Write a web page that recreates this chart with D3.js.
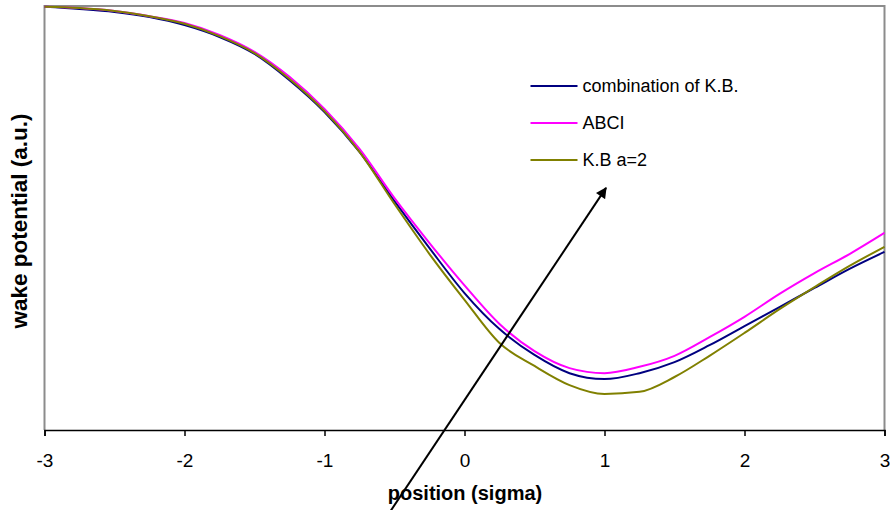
<!DOCTYPE html>
<html>
<head>
<meta charset="utf-8">
<script src="https://cdn.jsdelivr.net/npm/d3@7"></script>
<style>
  body { margin: 0; background: #fff; }
  text { font-family: Arial, "Liberation Sans", sans-serif; }
</style>
</head>
<body>
<div id="chart"></div>
<script>
// Data (wake potential in arbitrary units)
const positions = [-3, -2.75, -2.5, -2.25, -2, -1.75, -1.5, -1.25, -1, -0.75, -0.5, -0.25,
    0, 0.25, 0.5, 0.75, 1, 1.25, 1.5, 1.75, 2, 2.25, 2.5, 2.75, 3]
const combinationKB = [0.998, 0.993, 0.986, 0.974, 0.955, 0.927, 0.887, 0.825, 0.750, 0.656, 0.540, 0.429,
    0.323, 0.238, 0.177, 0.134, 0.120, 0.134, 0.160, 0.200, 0.245, 0.290, 0.335, 0.380, 0.420]
const abci = [0.998, 0.995, 0.988, 0.976, 0.960, 0.932, 0.892, 0.833, 0.757, 0.663, 0.547, 0.441,
    0.341, 0.250, 0.186, 0.146, 0.134, 0.149, 0.175, 0.219, 0.267, 0.321, 0.370, 0.415, 0.465]
const kbA2 = [0.998, 0.995, 0.988, 0.976, 0.958, 0.929, 0.889, 0.828, 0.752, 0.656, 0.533, 0.415,
    0.307, 0.205, 0.151, 0.106, 0.085, 0.090, 0.125, 0.175, 0.229, 0.285, 0.337, 0.387, 0.432]
const seriesNames = ["combination of K.B.", "ABCI", "K.B a=2"]
const xTicks = [-3, -2, -1, 0, 1, 2, 3]
// arrow annotation, in data coordinates [position, wake]
const arrowFrom = [-0.532, -0.193]
const arrowTo = [1.011, 0.571]

const MARGIN = { LEFT: 44.5, RIGHT: 5.5, TOP: 6, BOTTOM: 80 }
const WIDTH = 890 - MARGIN.LEFT - MARGIN.RIGHT
const HEIGHT = 510 - MARGIN.TOP - MARGIN.BOTTOM

const svg = d3.select("#chart").append("svg")
    .attr("width", 890)
    .attr("height", 510)

const g = svg.append("g")
    .attr("transform", `translate(${MARGIN.LEFT}, ${MARGIN.TOP})`)

// Scales
const x = d3.scaleLinear().domain([-3, 3]).range([0, WIDTH])
const y = d3.scaleLinear().domain([0, 1]).range([HEIGHT, 0])
const color = d3.scaleOrdinal().domain(seriesNames).range(["#000080", "#ff00ff", "#808000"])

// plot frame (grey top/left/right)
g.append("path")
    .attr("d", `M0,${HEIGHT}V0H${WIDTH}V${HEIGHT}`)
    .attr("fill", "none")
    .attr("stroke", "#8c8c8c")
    .attr("stroke-width", 2)

// X Axis
const xAxisCall = d3.axisBottom(x)
    .tickValues(xTicks)
    .tickSize(6)
    .tickPadding(18)
    .tickFormat(d => String(d))
const xAxis = g.append("g")
    .attr("transform", `translate(0, ${HEIGHT})`)
    .call(xAxisCall)
xAxis.select(".domain").attr("stroke", "#000").attr("stroke-width", 1.5)
xAxis.selectAll(".tick line").attr("stroke", "#000").attr("stroke-width", 1.5)
xAxis.selectAll(".tick text")
    .attr("font-size", "19px")
    .attr("fill", "#000")
    .attr("font-family", "Arial, 'Liberation Sans', sans-serif")

// Labels
g.append("text")
    .attr("x", x(0) + 0.5)
    .attr("y", HEIGHT + 70)
    .attr("font-size", "20px")
    .attr("font-weight", "bold")
    .attr("text-anchor", "middle")
    .text("position (sigma)")
g.append("text")
    .attr("transform", "rotate(-90)")
    .attr("x", -215)
    .attr("y", -18)
    .attr("font-size", "22.5px")
    .attr("font-weight", "bold")
    .attr("text-anchor", "middle")
    .text("wake potential (a.u.)")

// Lines
const series = [
    { name: seriesNames[0], values: combinationKB },
    { name: seriesNames[1], values: abci },
    { name: seriesNames[2], values: kbA2 }
]
const line = d3.line()
    .x((d, i) => x(positions[i]))
    .y(d => y(d))
    .curve(d3.curveMonotoneX)

g.selectAll(".series")
    .data(series)
    .enter().append("path")
    .attr("class", "series")
    .attr("d", d => line(d.values))
    .attr("fill", "none")
    .attr("stroke", d => color(d.name))
    .attr("stroke-width", 2)

// Legend
const legend = g.selectAll(".legend")
    .data(seriesNames)
    .enter().append("g")
    .attr("class", "legend")
    .attr("transform", (d, i) => `translate(486, ${80 + i * 37})`)
legend.append("line")
    .attr("x1", 0).attr("x2", 47)
    .attr("stroke", d => color(d))
    .attr("stroke-width", 2)
legend.append("text")
    .attr("x", 52)
    .attr("y", 6)
    .attr("font-size", "18px")
    .text(d => d)

// Arrow
svg.append("defs").append("marker")
    .attr("id", "head")
    .attr("viewBox", "0 0 10 10")
    .attr("refX", 9).attr("refY", 5)
    .attr("markerWidth", 12).attr("markerHeight", 11)
    .attr("markerUnits", "userSpaceOnUse")
    .attr("orient", "auto")
    .append("path")
    .attr("d", "M0,0L10,5L0,10Z")
    .attr("fill", "#000")
g.append("line")
    .attr("x1", x(arrowFrom[0])).attr("y1", y(arrowFrom[1]))
    .attr("x2", x(arrowTo[0])).attr("y2", y(arrowTo[1]))
    .attr("stroke", "#000")
    .attr("stroke-width", 2)
    .attr("marker-end", "url(#head)")
</script>
</body>
</html>
